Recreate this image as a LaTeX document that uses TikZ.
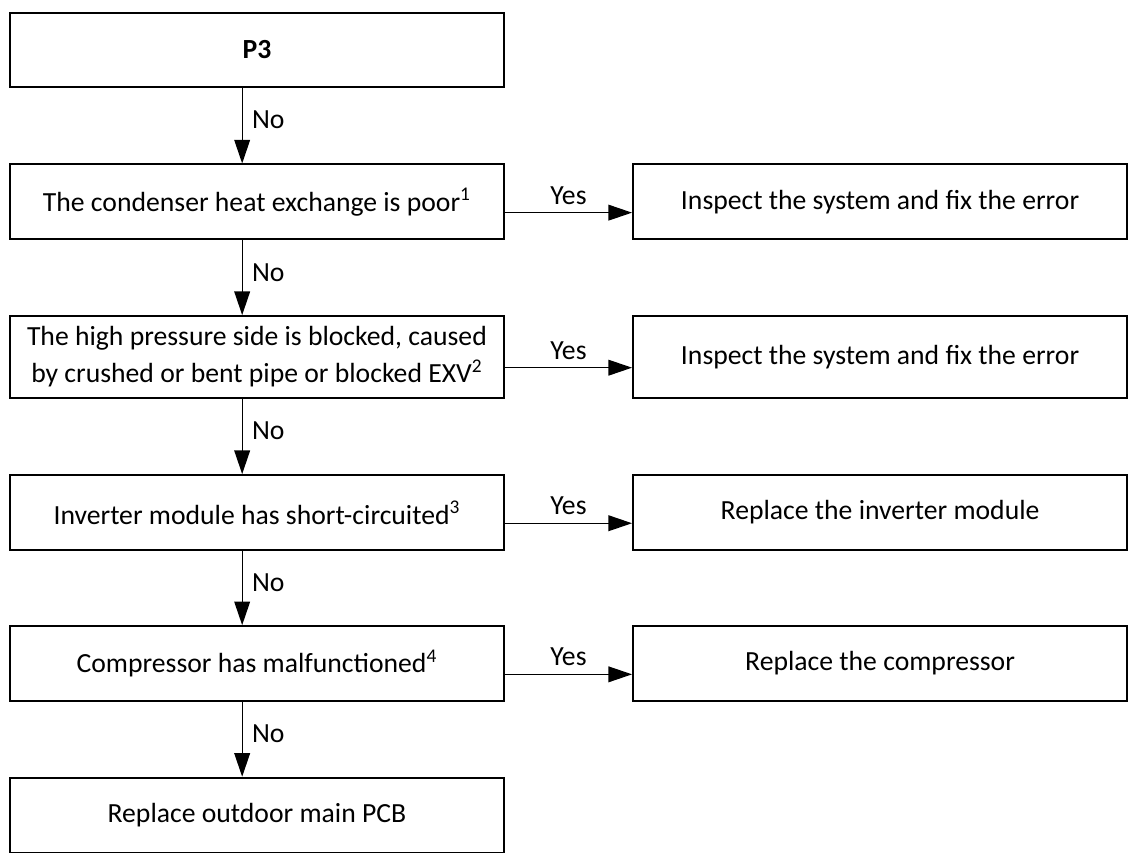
\documentclass[tikz,border=0pt]{standalone}
\usepackage{fontspec}
\setmainfont{Carlito}
\usetikzlibrary{arrows.meta}
\begin{document}
\begin{tikzpicture}[>={Triangle[length=4.8mm,width=3.2mm]}, line width=.75pt,
  font=\fontsize{16}{21.6}\selectfont,
  box/.style={draw, line width=1.1pt, minimum width=10.04cm, minimum height=1.52cm, align=center, inner sep=0pt}]
\useasboundingbox (0,0) rectangle (23.1,-17.54);
\node[box, minimum height=1.5cm](A) at (5.22,-1.01){\textbf{P3}};
\node[box](B) at (5.22,-4.10){The condenser heat exchange is poor\textsuperscript{1}};
\node[box, minimum height=1.66cm](C) at (5.22,-7.25){The high pressure side is blocked, caused\\by crushed or bent pipe or blocked EXV\textsuperscript{2}};
\node[box](D) at (5.22,-10.41){Inverter module has short-circuited\textsuperscript{3}};
\node[box](E) at (5.22,-13.48){Compressor has malfunctioned\textsuperscript{4}};
\node[box](F) at (5.22,-16.56){Replace outdoor main PCB};
\node[box](B1) at (17.88,-4.10){Inspect the system and fix the error};
\node[box, minimum height=1.66cm](C1) at (17.88,-7.25){Inspect the system and fix the error};
\node[box](D1) at (17.88,-10.41){Replace the inverter module};
\node[box](E1) at (17.88,-13.48){Replace the compressor};
\draw[->]([xshift=-3mm]A.south)--node[pos=.43,right=2pt]{No}([xshift=-3mm]B.north);
\draw[->]([xshift=-3mm]B.south)--node[pos=.43,right=2pt]{No}([xshift=-3mm]C.north);
\draw[->]([xshift=-3mm]C.south)--node[pos=.43,right=2pt]{No}([xshift=-3mm]D.north);
\draw[->]([xshift=-3mm]D.south)--node[pos=.43,right=2pt]{No}([xshift=-3mm]E.north);
\draw[->]([xshift=-3mm]E.south)--node[pos=.43,right=2pt]{No}([xshift=-3mm]F.north);
\draw[->]([yshift=-2.2mm]B.east)--node[above=1pt]{Yes}([yshift=-2.2mm]B1.west);
\draw[->]([yshift=-2.2mm]C.east)--node[above=1pt]{Yes}([yshift=-2.2mm]C1.west);
\draw[->]([yshift=-2.2mm]D.east)--node[above=1pt]{Yes}([yshift=-2.2mm]D1.west);
\draw[->]([yshift=-2.2mm]E.east)--node[above=1pt]{Yes}([yshift=-2.2mm]E1.west);
\end{tikzpicture}
\end{document}
